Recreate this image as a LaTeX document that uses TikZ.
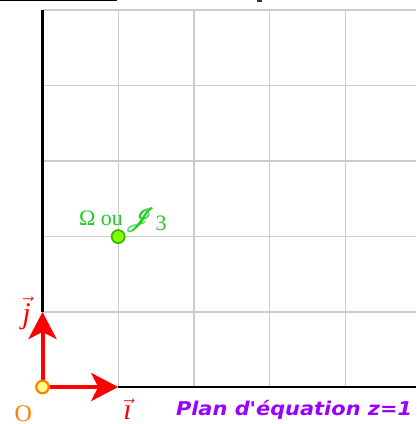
\documentclass[tikz,border=0pt]{standalone}
\usepackage{fontspec}
\usepackage{amsmath,amssymb,mathrsfs}
\setmainfont{Liberation Serif}
\newfontfamily\planfont[FakeStretch=1.1]{DejaVu Sans}
\usetikzlibrary{arrows.meta}
\definecolor{gridgray}{HTML}{CCCCCC}
\definecolor{vecred}{HTML}{FF0000}
\definecolor{ptgreen}{HTML}{22CC22}
\definecolor{ptfill}{HTML}{88FF00}
\definecolor{ptedge}{HTML}{33BB00}
\definecolor{orig}{HTML}{FF8000}
\definecolor{origfill}{HTML}{FFFF88}
\definecolor{plan}{HTML}{9900FF}
\tikzset{
  gridline/.style={gridgray, line width=1.4pt},
  axisline/.style={black, line width=2.6pt},
  vecarrow/.style={vecred, line width=4pt, -{Stealth[length=27pt, width=28pt, inset=7pt]}},
  lbl/.style={inner sep=0pt, outer sep=0pt},
}
\begin{document}
\begin{tikzpicture}[x=1pt, y=-1pt]
\useasboundingbox (0,0) rectangle (416,424);
\fill[white] (0,0) rectangle (416,424);
% grid
\foreach \xx in {118.2,194,269.7,345.4} \draw[gridline] (\xx,9.5) -- (\xx,387);
\foreach \yy in {9.8,85.5,161,236.6,312} \draw[gridline] (42.5,\yy) -- (416,\yy);
% fragments at top
\draw[black, line width=1.5pt] (0,0.6) -- (117,0.6);
\fill[black!80] (257,0) rectangle (261.5,2);
% axes
\coordinate (O) at (42.5,387);
\coordinate (I) at (118.2,387);
\coordinate (J) at (42.5,312);
\coordinate (T) at (42.5,9.5);
\coordinate (E) at (416,387);
\draw[axisline] (J) -- (T);
\draw[axisline] (I) -- (E);
% vectors
\draw[vecarrow] (O) -- (I);
\draw[vecarrow] (O) -- (J);
% origin point
\node[circle, draw=orig, fill=origfill, line width=2.2pt, minimum size=12.5pt, inner sep=0pt] (Opt) at (O) {};
% Omega point
\node[circle, draw=ptedge, fill=ptfill, line width=1.8pt, minimum size=13pt, inner sep=0pt] (Om) at (118.2,236.6) {};
% labels
\node[lbl, anchor=base west, text=ptgreen, font=\fontsize{22}{26}\selectfont] (Omlbl) at (79,225.5) {Ω ou\hspace{3pt}\scalebox{1.15}{$\pmb{\mathscr{J}}$}\raisebox{-5pt}{3}};
\node[lbl, anchor=base west, text=orig, font=\fontsize{24}{28}\selectfont] (Olbl) at (14.5,421) {O};
\node[lbl, text=vecred, font=\fontsize{30}{34}\selectfont] (jlbl) at (26.5,313) {$\vec{\text{\itshape j}}$};
\node[lbl, text=vecred, font=\fontsize{30}{34}\selectfont] (ilbl) at (127.5,409.5) {$\vec{\text{\itshape ı}}$};
\node[lbl, anchor=base west, text=plan, font=\planfont\bfseries\itshape\fontsize{19}{22}\selectfont] (planlbl) at (176,415) {Plan d'équation z=1};
\end{tikzpicture}
\end{document}
